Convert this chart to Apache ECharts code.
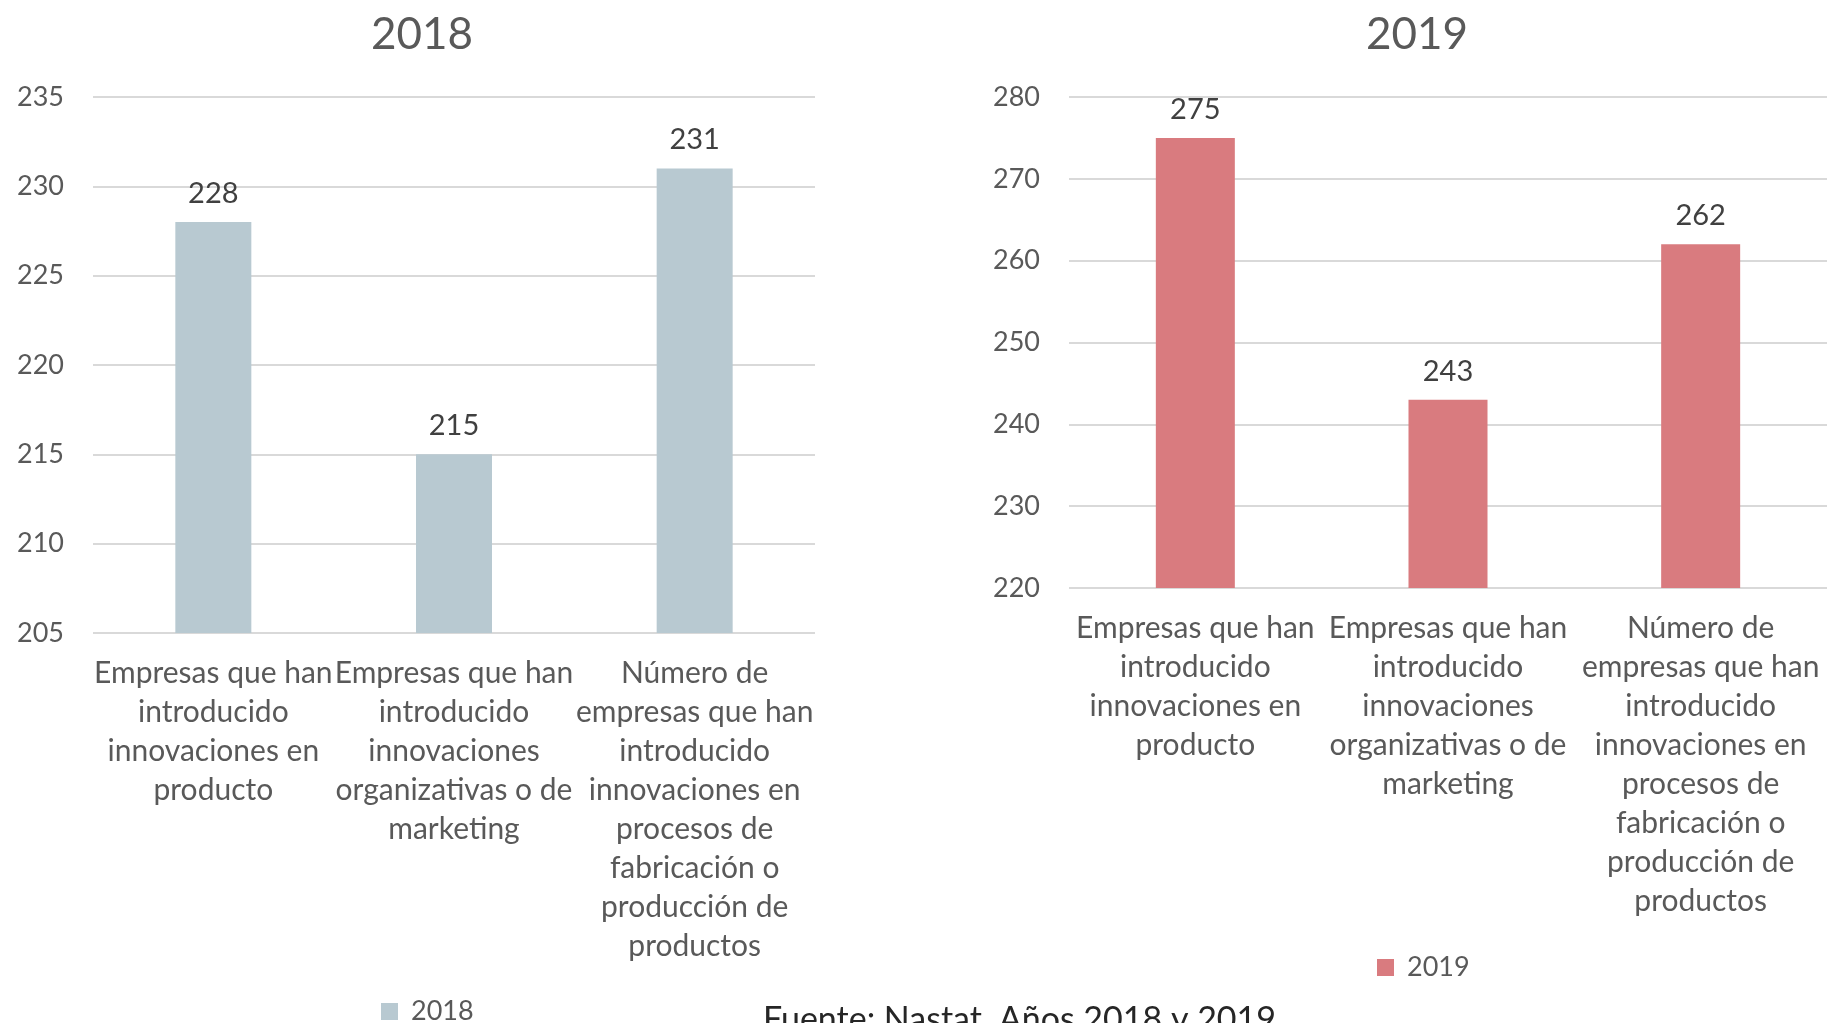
<!DOCTYPE html>
<html lang="es">
<head>
  <meta charset="UTF-8">
  <title>Innovación 2018 y 2019</title>
  <style>
    html, body { margin: 0; padding: 0; background: #fff; }
    #chart { width: 1827px; height: 1023px; }
  </style>
  <script src="https://cdn.jsdelivr.net/npm/echarts@6/dist/echarts.min.js"></script>
</head>
<body>
  <div id="chart"></div>
  <script>
    // categorías (mismas en los dos gráficos)
    const categories = [
      'Empresas que han\nintroducido\ninnovaciones en\nproducto',
      'Empresas que han\nintroducido\ninnovaciones\norganizativas o de\nmarketing',
      'Número de\nempresas que han\nintroducido\ninnovaciones en\nprocesos de\nfabricación o\nproducción de\nproductos'
    ];
    const values2018 = [228, 215, 231];
    const values2019 = [275, 243, 262];
    const ticks2018 = { min: 205, max: 235, interval: 5 };
    const ticks2019 = { min: 220, max: 280, interval: 10 };
    const fuente = 'Fuente: Nastat. Años 2018 y 2019';

    const font = 'Lato, "Open Sans", sans-serif';
    const grey = '#595959';
    const gridColor = '#d9d9d9';

    function xAxisFor(gridIndex) {
      return {
        type: 'category',
        gridIndex: gridIndex,
        data: categories,
        axisLine: { show: false },
        axisTick: { show: false },
        axisLabel: {
          interval: 0,
          color: grey,
          fontFamily: font,
          fontSize: 30,
          lineHeight: 39,
          margin: 21
        }
      };
    }

    function yAxisFor(gridIndex, t) {
      return {
        type: 'value',
        gridIndex: gridIndex,
        min: t.min,
        max: t.max,
        interval: t.interval,
        axisLine: { show: false },
        axisTick: { show: false },
        splitLine: { lineStyle: { color: gridColor, width: 2 } },
        axisLabel: { color: grey, fontFamily: font, fontSize: 27, margin: 29 }
      };
    }

    const labelStyle = {
      show: true,
      position: 'top',
      distance: 14,
      color: '#404040',
      fontFamily: font,
      fontSize: 29
    };

    const legendText = { color: grey, fontFamily: font, fontSize: 27, padding: [0, 0, 0, 8] };

    const chart = echarts.init(document.getElementById('chart'));
    chart.setOption({
      animation: false,
      title: [
        { text: '2018', left: 417, top: 8, textAlign: 'center',
          textStyle: { color: grey, fontFamily: font, fontSize: 44, fontWeight: 'normal' } },
        { text: '2019', left: 1412, top: 8, textAlign: 'center',
          textStyle: { color: grey, fontFamily: font, fontSize: 44, fontWeight: 'normal' } }
      ],
      legend: [
        { data: ['2018'], left: 376, top: 993, icon: 'rect', itemWidth: 17, itemHeight: 17,
          textStyle: legendText },
        { data: ['2019'], left: 1372, top: 949, icon: 'rect', itemWidth: 17, itemHeight: 17,
          textStyle: legendText }
      ],
      grid: [
        { left: 93, top: 97, width: 722, height: 536 },
        { left: 1069, top: 97, width: 759, height: 491 }
      ],
      xAxis: [xAxisFor(0), xAxisFor(1)],
      yAxis: [yAxisFor(0, ticks2018), yAxisFor(1, ticks2019)],
      series: [
        { name: '2018', type: 'bar', xAxisIndex: 0, yAxisIndex: 0,
          data: values2018, barWidth: 76,
          itemStyle: { color: '#b8c9d1' }, label: labelStyle },
        { name: '2019', type: 'bar', xAxisIndex: 1, yAxisIndex: 1,
          data: values2019, barWidth: 79,
          itemStyle: { color: '#d97b7f' }, label: labelStyle }
      ],
      graphic: [
        { type: 'text', left: 763, top: 1003,
          style: { text: fuente, fill: '#262626', font: '34px ' + font } }
      ]
    });
  </script>
</body>
</html>
